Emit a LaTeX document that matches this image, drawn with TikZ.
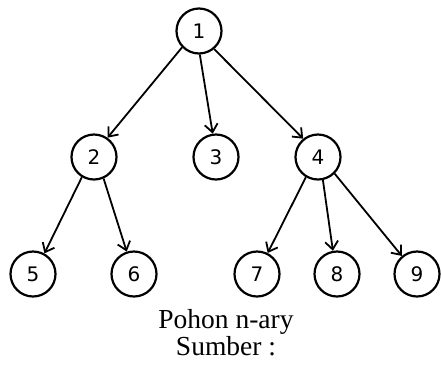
\documentclass[tikz,border=0pt]{standalone}
\usepackage{fontspec}
\setmainfont{Liberation Serif}
\newfontfamily\numfont{DejaVu Sans}
\usetikzlibrary{arrows.meta}
\begin{document}
\begin{tikzpicture}[x=1pt,y=-1pt,
  vtx/.style={circle,draw,line width=2.2pt,minimum size=45pt,inner sep=0pt,font=\numfont\fontsize{20}{20}\selectfont},
  edge/.style={line width=1.8pt,-{Straight Barb[length=8pt,width=13pt,line width=1.8pt]}},
  captext/.style={font=\fontsize{27.5}{27.5}\selectfont,inner sep=0pt,anchor=base}]
\useasboundingbox (0,0) rectangle (441,365);
\node[vtx] (n1) at (199,31) {1};
\node[vtx] (n2) at (94,157) {2};
\node[vtx] (n3) at (216,157) {3};
\node[vtx] (n4) at (318,157) {4};
\node[vtx] (n5) at (33,274) {5};
\node[vtx] (n6) at (134,274) {6};
\node[vtx] (n7) at (257,274) {7};
\node[vtx] (n8) at (337,274) {8};
\node[vtx] (n9) at (417,274) {9};
\draw[edge] (n1.224) -- (n2.55);
\draw[edge] (n1.272) -- (n3.98);
\draw[edge] (n1.310) -- (n4.129);
\draw[edge] (n2.239) -- (n5.61);
\draw[edge] (n2.294) -- (n6.108);
\draw[edge] (n4.239) -- (n7.63);
\draw[edge] (n4.282) -- (n8.100);
\draw[edge] (n4.315) -- (n9.130);
\node[captext] (t1) at (226,328) {Pohon n-ary};
\node[captext] (t2) at (226,355) {Sumber :};
\end{tikzpicture}
\end{document}
